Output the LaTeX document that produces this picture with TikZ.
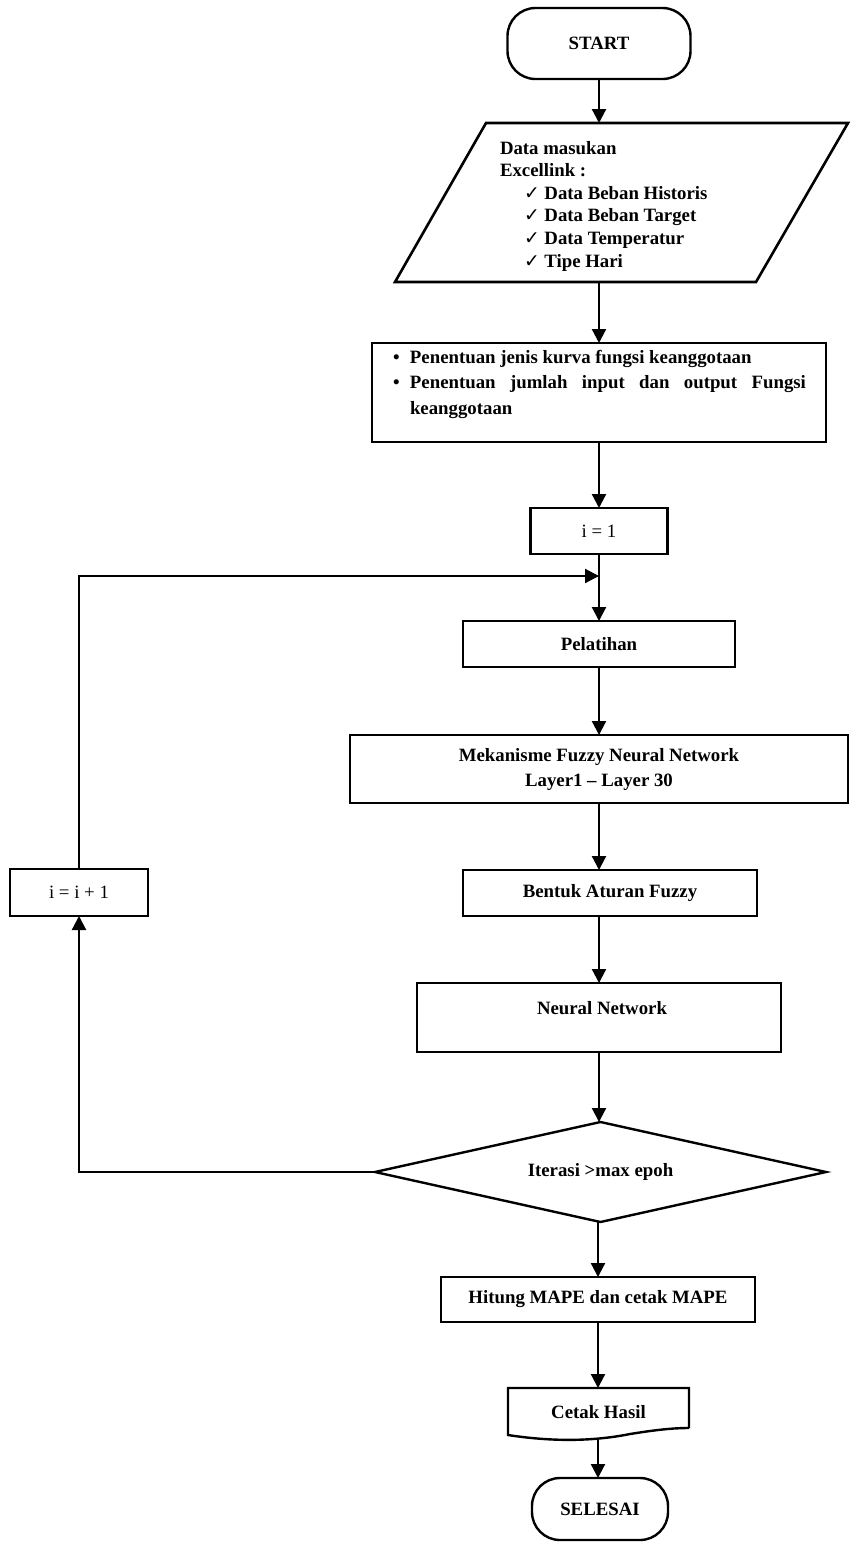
\documentclass[tikz,border=0pt]{standalone}
\usepackage{fontspec}
\setmainfont{Liberation Serif}
\newfontfamily\dejavu{DejaVu Sans}
\usetikzlibrary{arrows.meta,shapes.geometric}
\newcommand{\ckm}{{\dejavu\mdseries ✓}}
\begin{document}
\begin{tikzpicture}[x=1pt,y=-1pt,
  font=\fontsize{18.8}{22.6}\selectfont\bfseries,
  boxst/.style={draw, line width=2.6pt, rectangle, inner sep=0pt, outer sep=0pt},
  termst/.style={draw, line width=2.4pt, rounded corners=28pt, inner sep=0pt, outer sep=0pt},
  conn/.style={line width=2.2pt, -{Triangle[length=14pt,width=14pt]}},
  txt/.style={inner sep=0pt, outer sep=0pt}
]
\useasboundingbox (0,0) rectangle (863,1543);

% START
\node[termst, minimum width=183pt, minimum height=71pt] (start) at (599,43.5) {START};

% input parallelogram
\draw[line width=2.6pt, line join=miter] (486,123) -- (848,123) -- (756,282) -- (395,282) -- cycle;
\coordinate (dtop) at (599,123);
\coordinate (dbot) at (599,282);
\node[txt, anchor=base west, align=left] (dtext) at (500,267)
  {Data masukan\\Excellink :\\\hspace*{24pt}\ckm\ Data Beban Historis\\\hspace*{24pt}\ckm\ Data Beban Target\\\hspace*{24pt}\ckm\ Data Temperatur\\\hspace*{24pt}\ckm\ Tipe Hari};

% criteria box
\node[boxst, minimum width=454pt, minimum height=99pt, anchor=north] (crit) at (599,343) {};
\node[txt, anchor=base west, align=left, font=\fontsize{18.8}{25.5}\selectfont\bfseries] (critt) at (393,414)
  {\makebox[17pt][l]{\textbullet}Penentuan jenis kurva fungsi keanggotaan\\
   \makebox[17pt][l]{\textbullet}\makebox[396pt][s]{Penentuan jumlah input dan output Fungsi}\\
   \hspace*{17pt}keanggotaan};

% i = 1
\node[boxst, minimum width=137pt, minimum height=46pt, font=\fontsize{18.8}{22}\selectfont\mdseries] (init) at (599,531) {i = 1};
\coordinate (join) at (599,576);

% Pelatihan
\node[boxst, minimum width=272pt, minimum height=46pt] (pel) at (599,644) {Pelatihan};

% Mekanisme
\node[boxst, minimum width=498pt, minimum height=68pt, align=center, font=\fontsize{18.8}{25}\selectfont\bfseries] (mek) at (599,769) {Mekanisme Fuzzy Neural Network\\Layer1 -- Layer 30};

% Bentuk aturan
\node[boxst, minimum width=294pt, minimum height=46pt] (bent) at (610,893) {Bentuk Aturan Fuzzy};

% Neural network
\node[boxst, minimum width=364pt, minimum height=69pt] (nn) at (599,1017.5) {};
\node[txt] (nnt) at (602,1008) {Neural Network};

% decision
\node[draw, diamond, aspect=4.5, line width=2.4pt, minimum width=451pt, minimum height=100pt, inner sep=0pt, outer sep=0pt] (dec) at (600.5,1172) {Iterasi >max epoh};

% i = i + 1
\node[boxst, minimum width=138pt, minimum height=47pt, font=\fontsize{18.8}{22}\selectfont\mdseries] (iinc) at (79,892.5) {i = i + 1};

% Hitung MAPE
\node[boxst, minimum width=314pt, minimum height=45pt] (hit) at (598,1299.5) {Hitung MAPE dan cetak MAPE};

% Cetak Hasil (document)
\draw[line width=2.4pt, line join=miter] (689,1428) -- (689,1388) -- (508,1388) -- (508,1435)
  .. controls (560,1443) and (600,1440) .. (630,1434) .. controls (655,1430) and (672,1428) .. (689,1428);
\node[txt] (cetak) at (598.5,1412) {Cetak Hasil};
\coordinate (ctop) at (598,1388);
\coordinate (cbot) at (598,1438);

% SELESAI
\node[termst, minimum width=136pt, minimum height=62pt] (fin) at (600,1509) {SELESAI};

% connectors
\draw[conn] (start.south) -- (dtop);
\draw[conn] (dbot) -- (crit.north);
\draw[conn] (crit.south) -- (init.north);
\draw[conn] (init.south) -- (pel.north);
\draw[conn] (pel.south) -- (mek.north);
\draw[conn] (mek.south) -- (mek.south |- bent.north);
\draw[conn] (nn.north |- bent.south) -- (nn.north);
\draw[conn] (nn.south) -- (nn.south |- dec.north);
\draw[conn] (hit.north |- dec.south) -- (hit.north);
\draw[conn] (hit.south) -- (ctop);
\draw[conn] (cbot) -- (cbot |- fin.north);
\draw[conn] (dec.west) -- (dec.west -| iinc.south) -- (iinc.south);
\draw[conn] (iinc.north) |- (join);
\end{tikzpicture}
\end{document}
